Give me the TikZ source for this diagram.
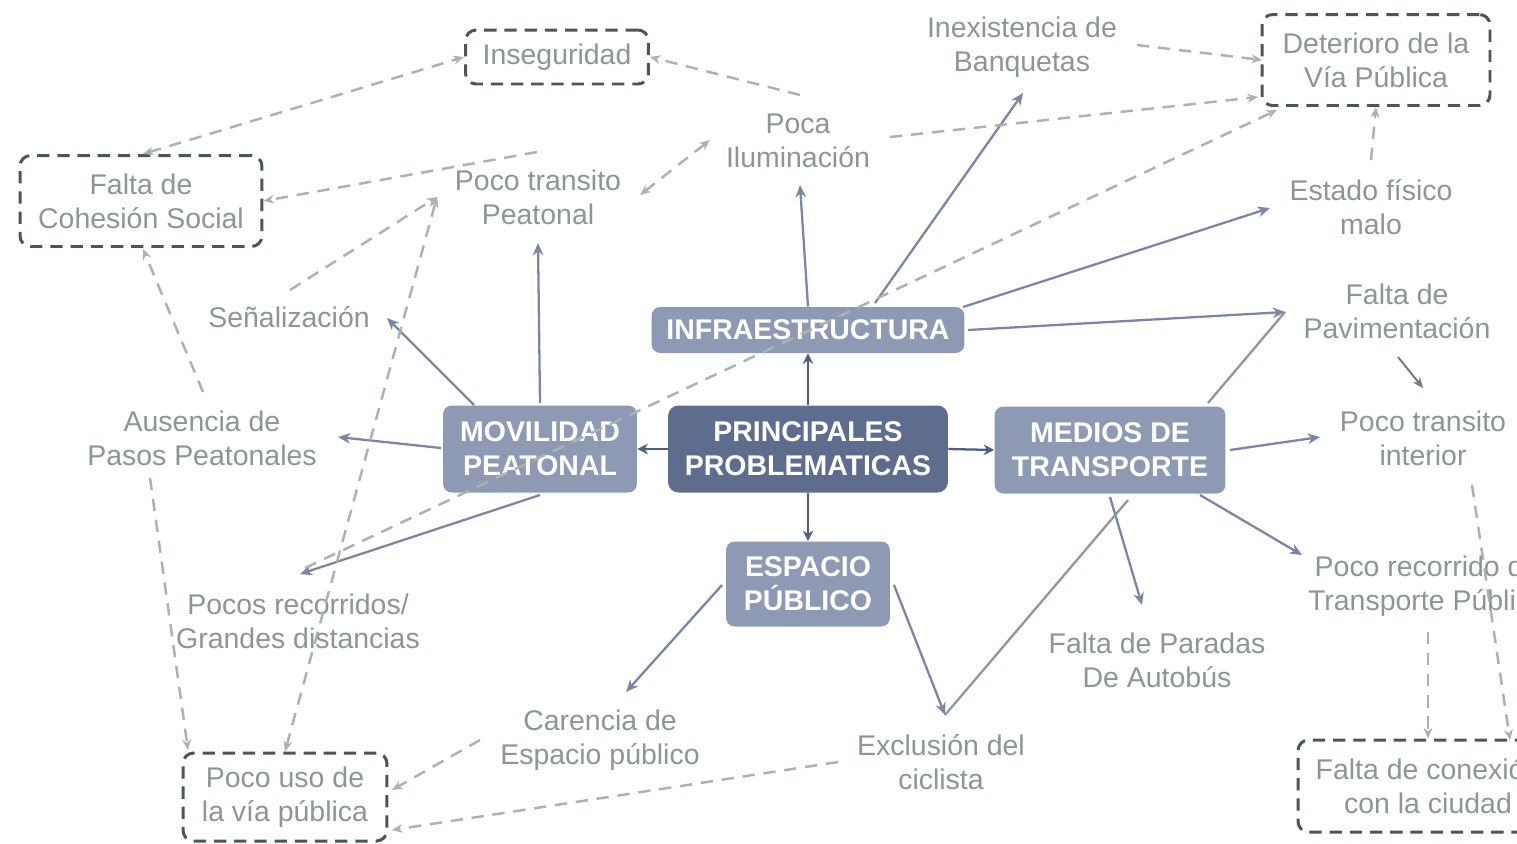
\documentclass[tikz,border=0pt]{standalone}
\usepackage{fontspec}
\setmainfont{Liberation Sans}
\usetikzlibrary{arrows.meta,calc}
\definecolor{txtgray}{RGB}{139,150,152}
\definecolor{boxlight}{RGB}{142,154,180}
\definecolor{boxdark}{RGB}{94,109,142}
\definecolor{solidarr}{RGB}{122,134,163}
\definecolor{darkarr}{RGB}{80,95,128}
\definecolor{greenarr}{RGB}{140,153,153}
\definecolor{dasharr}{RGB}{170,178,178}
\definecolor{dashbox}{RGB}{74,87,89}
\tikzset{
  every node/.style={font=\fontsize{16.2pt}{19.4pt}\selectfont, align=center},
  lbl/.style={text=txtgray, inner sep=0pt},
  effbox/.style={draw=dashbox, line width=1.7pt, dash pattern=on 7pt off 4.5pt, rounded corners=6pt, text=txtgray, inner sep=0pt},
  catbox/.style={fill=boxlight, rounded corners=5pt, text=white, font=\fontsize{16.2pt}{19.4pt}\selectfont\bfseries, inner sep=0pt},
  mainbox/.style={fill=boxdark, rounded corners=6pt, text=white, font=\fontsize{16.2pt}{19.4pt}\selectfont\bfseries, inner sep=0pt},
  sarr/.style={draw=solidarr, line width=1.3pt, -{Stealth[length=7pt,width=6pt]}},
  darr/.style={draw=darkarr, line width=1.3pt, -{Stealth[length=6pt,width=6pt]}},
  garr/.style={draw=greenarr, line width=1.3pt},
  tarr/.style={draw=dasharr, line width=1.4pt, dash pattern=on 7pt off 5pt, -{Stealth[length=6pt,width=5pt]}},
  tarrb/.style={draw=dasharr, line width=1.4pt, dash pattern=on 7pt off 5pt, {Stealth[length=6pt,width=5pt]}-{Stealth[length=6pt,width=5pt]}},
}
\begin{document}
\begin{tikzpicture}[x=0.02cm,y=-0.02cm]
\useasboundingbox (0,0) rectangle (1517,843);
\fill[white] (0,0) rectangle (1517,843);
\clip (0,0) rectangle (1517,843);

% dashed effect boxes
\node[effbox, minimum width=3.66cm, minimum height=1.08cm] (insg) at (557,57) {Inseguridad};
\node[effbox, minimum width=4.84cm, minimum height=1.82cm] (cohe) at (141,201) {Falta de\\Cohesión Social};
\node[effbox, minimum width=4.56cm, minimum height=1.82cm] (deter) at (1376,60) {Deterioro de la\\Vía Pública};
\node[effbox, minimum width=4.08cm, minimum height=1.76cm] (pocouso) at (285,797) {Poco uso de\\la vía pública};
\node[effbox, minimum width=5.2cm, minimum height=1.84cm] (conex) at (1428,786) {Falta de conexión\\con la ciudad};

% plain labels
\node[lbl] (banq) at (1022,47) {Inexistencia de\\Banquetas};
\node[lbl] (ilum) at (798,141) {Poca\\Iluminación};
\node[lbl] (ptp) at (538,197) {Poco transito\\Peatonal};
\node[lbl] (estado) at (1371,207) {Estado físico\\malo};
\node[lbl] (senal) at (289,317) {Señalización};
\node[lbl] (pavim) at (1397,311) {Falta de\\Pavimentación};
\node[lbl] (ausen) at (202,438) {Ausencia de\\Pasos Peatonales};
\node[lbl] (pti) at (1423,438) {Poco transito\\interior};
\node[lbl] (precorr) at (298,621) {Pocos recorridos/\\Grandes distancias};
\node[lbl] (prtp) at (1427,586) {Poco recorrido de\\Transporte Público};
\node[lbl] (paradas) at (1157,660) {Falta de Paradas\\De Autobús};
\node[lbl] (carencia) at (600,740) {Carencia de\\Espacio público};
\node[lbl] (exclus) at (941,762) {Exclusión del\\ciclista};

% category boxes
\node[catbox, minimum width=6.26cm, minimum height=0.92cm] (infra) at (808,330) {INFRAESTRUCTURA};
\node[mainbox, minimum width=5.6cm, minimum height=1.74cm] (princ) at (808,449) {PRINCIPALES\\PROBLEMATICAS};
\node[catbox, minimum width=3.88cm, minimum height=1.74cm] (movil) at (540,449) {MOVILIDAD\\PEATONAL};
\node[catbox, minimum width=4.62cm, minimum height=1.74cm] (medios) at (1110,450) {MEDIOS DE\\TRANSPORTE};
\node[catbox, minimum width=3.28cm, minimum height=1.7cm] (espacio) at (808,584) {ESPACIO\\PÚBLICO};

% from main node
\draw[darr] (princ.north) -- (infra.south);
\draw[darr] (princ.west) -- (movil.east);
\draw[darr] (princ.east) -- (medios.west);
\draw[darr] (princ.south) -- (espacio.north);

% from infraestructura
\draw[sarr] (infra.north) -- ($(ilum)+(2,44)$);
\draw[sarr] ($(infra)+(67,-27)$) -- ($(banq)+(1,46)$);
\draw[sarr] ($(infra)+(155,-23)$) -- ($(estado)+(-101,1)$);
\draw[sarr] ($(infra)+(160,0)$) -- ($(pavim)+(-112,1)$);

% from movilidad peatonal
\draw[sarr] ($(movil)+(0,-46)$) -- ($(ptp)+(0,46)$);
\draw[sarr] ($(movil)+(-66,-44)$) -- ($(senal)+(98,1)$);
\draw[sarr] ($(movil)+(-99,-1)$) -- ($(ausen)+(136,-1)$);
\draw[sarr] ($(movil)+(0,46)$) -- ($(precorr)+(2,-47)$);

% from medios de transporte
\draw[garr] ($(medios)+(98,-47)$) -- ($(pavim)+(-112,1)$);
\draw[sarr] ($(medios)+(120,0)$) -- ($(pti)+(-103,-1)$);
\draw[sarr] ($(medios)+(90,45)$) -- ($(prtp)+(-125,-31)$);
\draw[sarr] ($(medios)+(0,47)$) -- ($(paradas)+(-15,-55)$);
\draw[garr] ($(medios)+(18,50)$) -- ($(exclus)+(4,-47)$);

% from espacio publico
\draw[sarr] ($(espacio)+(-86,1)$) -- ($(carencia)+(26,-48)$);
\draw[sarr] ($(espacio)+(86,1)$) -- ($(exclus)+(4,-47)$);

% pavimentacion -> poco transito interior
\draw[draw=greenarr!80!black, line width=1.1pt, -{Stealth[length=6pt,width=5pt]}] ($(pavim)+(1,46)$) -- ($(pti)+(0,-50)$);

% dashed relations
\draw[tarr] ($(ilum)+(2,-46)$) -- (insg.east);
\draw[tarrb] ($(cohe)+(2,-47)$) -- (insg.west);
\draw[tarr] ($(ptp)+(-1,-45)$) -- (cohe.east);
\draw[tarr] ($(senal)+(1,-27)$) -- ($(ptp)+(-101,0)$);
\draw[tarrb] (pocouso.north) -- ($(ptp)+(-101,0)$);
\draw[tarrb] ($(ptp)+(102,-2)$) -- ($(ilum)+(-88,-1)$);
\draw[tarr] ($(ilum)+(92,-4)$) -- ($(deter)+(-118,37)$);
\draw[tarr] ($(banq)+(115,-2)$) -- ($(deter)+(-114,0)$);
\draw[tarr] ($(estado)+(0,-47)$) -- (deter.south);
\draw[tarr] ($(precorr)+(7,-53)$) -- ($(deter)+(-99,50)$);
\draw[tarr] ($(ausen)+(1,-46)$) -- ($(cohe)+(2,48)$);
\draw[tarr] ($(ausen)+(-52,40)$) -- ($(pocouso)+(-97,-47)$);
\draw[tarr] ($(carencia)+(-120,0)$) -- ($(pocouso)+(107,-7)$);
\draw[tarr] ($(exclus)+(-103,0)$) -- ($(pocouso)+(107,33)$);
\draw[tarr] ($(pti)+(49,47)$) -- ($(conex)+(82,-46)$);
\draw[tarr] ($(prtp)+(1,46)$) -- (conex.north);
\end{tikzpicture}
\end{document}
